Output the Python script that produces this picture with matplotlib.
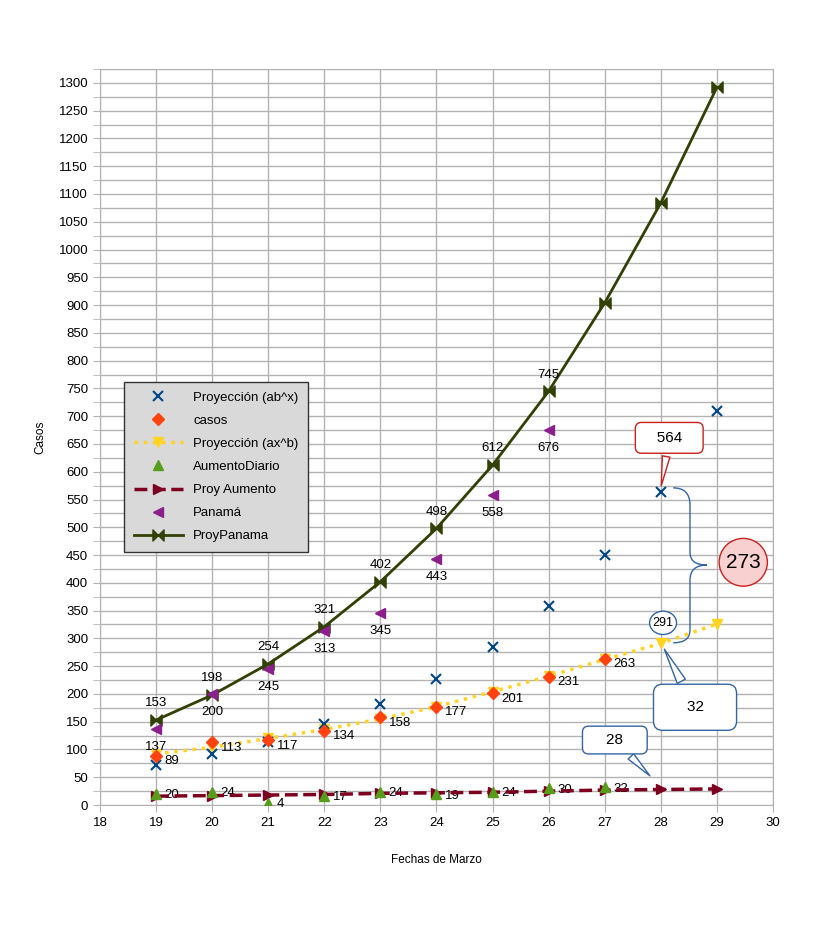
import matplotlib.pyplot as plt
from matplotlib.path import Path
from matplotlib.patches import PathPatch, Ellipse
from matplotlib.ticker import MultipleLocator

plt.rcParams['font.family'] = ['Liberation Sans', 'DejaVu Sans']

dias = [19, 20, 21, 22, 23, 24, 25, 26, 27, 28, 29]
dias_reales = [19, 20, 21, 22, 23, 24, 25, 26, 27]
dias_panama = [19, 20, 21, 22, 23, 24, 25, 26]

proy_abx = [72, 91, 114, 145, 181, 227, 284, 358, 450, 564, 709]
casos = [89, 113, 117, 134, 158, 177, 201, 231, 263]
proy_axb = [92, 104, 120, 136, 155, 177, 204, 232, 262, 291, 326]
aumento = [20, 24, 4, 17, 24, 19, 24, 30, 32]
proy_aumento = [16, 17, 18, 19, 21, 22, 23, 25, 27, 28, 29]
panama = [137, 200, 245, 313, 345, 443, 558, 676]
proy_panama = [153, 198, 254, 321, 402, 498, 612, 745, 904, 1084, 1292]

# bow tie marker like the spreadsheet one
bowtie = Path([(-1, -1), (0, 0), (-1, 1), (-1, -1), (1, -1), (0, 0), (1, 1), (1, -1)],
              [1, 2, 2, 79, 1, 2, 2, 79])

fig = plt.figure(figsize=(8.16, 9.49), dpi=100)
ax = fig.add_axes([0.1225, 0.1517, 0.8248, 0.7756])

ax.plot(dias, proy_abx, 'x', color='#004586', ms=7, mew=1.5, label='Proyección (ab^x)', zorder=4)
ax.plot(dias_reales, casos, 'D', color='#ff420e', ms=6, label='casos', zorder=5)
ax.plot(dias, proy_axb, ':v', color='#ffd320', lw=2.5, ms=7, label='Proyección (ax^b)', zorder=3)
ax.plot(dias_reales, aumento, '^', color='#579d1c', ms=7, label='AumentoDiario', zorder=5)
ax.plot(dias, proy_aumento, '--', marker='>', color='#7e0021', lw=2.5, ms=7, label='Proy Aumento', zorder=4)
ax.plot(dias_panama, panama, '<', color='#8b1f8b', ms=7, label='Panamá', zorder=5)
ax.plot(dias, proy_panama, '-', marker=bowtie, color='#314004', lw=2, ms=8, label='ProyPanama', zorder=3)

fs = 9.5
for d, v in zip(dias_reales, casos):
    ax.annotate(str(v), (d, v), xytext=(6, -4), textcoords='offset points', fontsize=fs, va='center')
for d, v in zip(dias_reales, aumento):
    ax.annotate(str(v), (d, v), xytext=(6, -1), textcoords='offset points', fontsize=fs, va='center')
for d, v in zip(dias_panama, panama):
    ax.annotate(str(v), (d, v), xytext=(0, -13), textcoords='offset points', fontsize=fs, ha='center', va='center')
for d, v in zip(dias[:8], proy_panama[:8]):
    ax.annotate(str(v), (d, v), xytext=(0, 12), textcoords='offset points', fontsize=fs, ha='center', va='center')

ax.set_xlim(18, 30)
ax.set_ylim(0, 1325)
ax.xaxis.set_major_locator(MultipleLocator(1))
ax.yaxis.set_minor_locator(MultipleLocator(25))
ax.set_yticks(range(0, 1301, 50))
ax.grid(True, which='both', color='#b3b3b3', lw=1)
ax.set_axisbelow(True)
for s in ax.spines.values():
    s.set_color('#b3b3b3')
ax.tick_params(which='both', color='#b3b3b3', labelsize=fs, length=5)
ax.set_xlabel('Fechas de Marzo', fontsize=8.5, labelpad=18)
ax.set_ylabel('Casos', fontsize=8.5, labelpad=9)

leg = ax.legend(loc='upper left', bbox_to_anchor=(0.026, 0.584), fontsize=9.5, frameon=True,
                fancybox=False, facecolor='#d9d9d9', edgecolor='#333333', framealpha=1,
                handlelength=3.7, labelspacing=0.82, borderpad=0.75)

# callouts
ax.annotate('   564   ', xy=(28.0, 570), xytext=(28.15, 661), fontsize=11, ha='center', va='center',
            bbox=dict(boxstyle='round,pad=0.55,rounding_size=0.4', fc='white', ec='#c9211e'),
            arrowprops=dict(arrowstyle='wedge,tail_width=0.5', fc='white', ec='#c9211e'), zorder=6)
ax.annotate('    32    ', xy=(28.04, 285), xytext=(28.61, 176), fontsize=11, ha='center', va='center',
            bbox=dict(boxstyle='round,pad=1.05,rounding_size=0.6', fc='white', ec='#3465a4'),
            arrowprops=dict(arrowstyle='wedge,tail_width=0.6', fc='white', ec='#3465a4'), zorder=6)
ax.annotate('    28    ', xy=(27.84, 49), xytext=(27.18, 117), fontsize=11, ha='center', va='center',
            bbox=dict(boxstyle='round,pad=0.45,rounding_size=0.4', fc='white', ec='#3465a4'),
            arrowprops=dict(arrowstyle='wedge,tail_width=0.5', fc='white', ec='#3465a4'), zorder=6)

ax.add_patch(Ellipse((28.04, 328), 0.48, 42, fc='white', ec='#3465a4', lw=1, zorder=6))
ax.text(28.04, 328, '291', fontsize=9, ha='center', va='center', zorder=7)
ax.add_patch(Ellipse((29.47, 437), 0.86, 86, fc='#f9d0d0', ec='#c9211e', lw=1, zorder=6))
ax.text(29.47, 437, '273', fontsize=15, ha='center', va='center', zorder=7)

# brace between 564 and 291
bx0, bx1, bx2 = 28.22, 28.52, 28.82
verts = [(bx0, 571), (bx1, 571), (bx1, 540), (bx1, 540), (bx1, 455),
         (bx1, 432), (bx2, 432), (bx1, 432), (bx1, 405),
         (bx1, 405), (bx1, 315), (bx1, 292), (bx0, 292)]
codes = [Path.MOVETO, Path.CURVE3, Path.CURVE3, Path.LINETO, Path.LINETO,
         Path.CURVE3, Path.CURVE3, Path.CURVE3, Path.CURVE3,
         Path.LINETO, Path.LINETO, Path.CURVE3, Path.CURVE3]
ax.add_patch(PathPatch(Path(verts, codes), fc='none', ec='#3465a4', lw=1, zorder=6))

fig.savefig('out.png', dpi=100)
